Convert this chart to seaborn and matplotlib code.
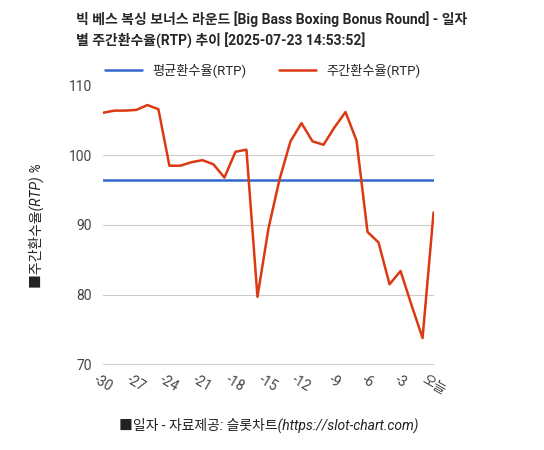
import matplotlib
matplotlib.use("Agg")
import matplotlib.pyplot as plt
import seaborn as sns
import pandas as pd

days = list(range(-30, 1))
rtp = [106.1, 106.4, 106.4, 106.5, 107.2, 106.6, 98.5, 98.5, 99.0, 99.3,
       98.7, 96.8, 100.5, 100.8, 79.7, 89.5, 96.5, 102.0, 104.6, 102.0,
       101.5, 104.0, 106.2, 102.1, 89.0, 87.5, 81.5, 83.4, 78.5, 73.8, 91.8]
avg_rtp = 96.5
tick_days = [-30, -27, -24, -21, -18, -15, -12, -9, -6, -3, 0]
tick_labels = ["-30", "-27", "-24", "-21", "-18", "-15", "-12", "-9", "-6", "-3", "오늘"]

sns.set_style("white")
plt.rcParams['font.family'] = ['Roboto', 'Noto Sans CJK KR', 'DejaVu Sans']

df = pd.DataFrame({"day": days, "rtp": rtp, "avg": [avg_rtp] * len(days)})

fig, ax = plt.subplots(figsize=(5.44, 4.5), dpi=100)
fig.subplots_adjust(left=0.19, right=0.797, top=0.81, bottom=0.19)
sns.lineplot(data=df, x="day", y="avg", ax=ax, color="#3366cc", lw=1.8, label="평균환수율(RTP)")
sns.lineplot(data=df, x="day", y="rtp", ax=ax, color="#dc3912", lw=1.8, label="주간환수율(RTP)")

ax.set_xlim(-30, 0)
ax.set_ylim(70, 110)
ax.set_yticks([70, 80, 90, 100, 110])
ax.set_xticks(tick_days)
ax.set_xticklabels(tick_labels, rotation=-30, fontsize=10, color="#444444")
ax.tick_params(axis="y", labelsize=10, colors="#444444", length=0, pad=8)
ax.tick_params(axis="x", length=0, pad=6)
ax.grid(axis="y", color="#cccccc", lw=0.8)
for s in ax.spines.values():
    s.set_visible(False)
ax.set_ylabel("■주간환수율(RTP) %", fontsize=10, style="italic", color="#222222", labelpad=18)
ax.set_xlabel("■일자 - 자료제공: 슬롯차트(https://slot-chart.com)", fontsize=10,
              style="italic", color="#222222", labelpad=14)
fig.text(0.14, 0.975, "빅 베스 복싱 보너스 라운드 [Big Bass Boxing Bonus Round] - 일자\n별 주간환수율(RTP) 추이 [2025-07-23 14:53:52]",
         fontsize=10, fontweight="bold", va="top", ha="left", linespacing=1.4)
ax.legend(loc="lower left", bbox_to_anchor=(-0.02, 1.0), ncol=2, frameon=False,
          fontsize=9.5, handlelength=2.8, columnspacing=2.5, borderaxespad=0.2)

fig.savefig("out.png", dpi=100)
